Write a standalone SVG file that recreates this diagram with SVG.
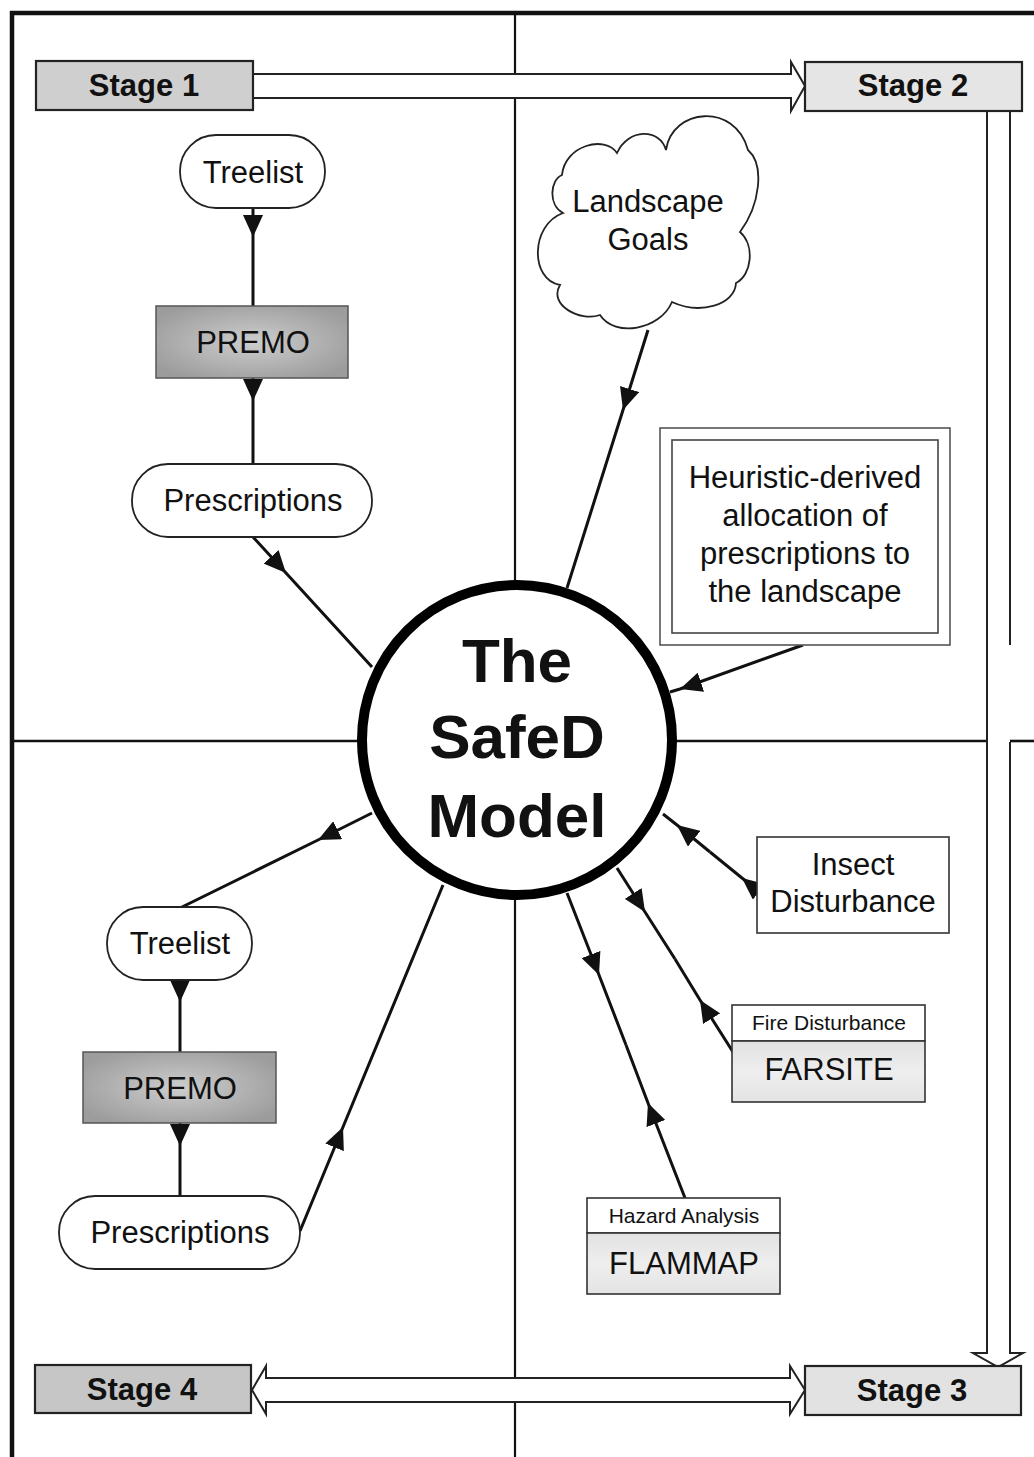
<svg xmlns="http://www.w3.org/2000/svg" width="1034" height="1457" viewBox="0 0 1034 1457">
  <style>
    text { font-family: "Liberation Sans", Arial, Helvetica, sans-serif; fill: #111; text-anchor: middle; }
    .lbl { font-size: 31px; }
    .stg { font-size: 31px; font-weight: bold; }
    .core { font-size: 62px; font-weight: bold; }
    .sm { font-size: 21px; }
    .frame { stroke: #111; fill: none; }
    .wire { stroke: #111; stroke-width: 3; fill: none; marker-mid: url(#ah); }
    .pill { fill: #fff; stroke: #222; stroke-width: 1.8; }
    .box { fill: #fff; stroke: #333; stroke-width: 1.6; }
    .stagebox { stroke: #222; stroke-width: 2.2; }
    .hollow { fill: #fff; stroke: none; }
    .hl { stroke: #222; stroke-width: 2; fill: none; }
  </style>
  <defs>
    <marker id="ah" viewBox="0 0 22 20" refX="22" refY="10" markerWidth="22" markerHeight="20" markerUnits="userSpaceOnUse" orient="auto">
      <path d="M0,0 L22,10 L0,20 Z" fill="#111"/>
    </marker>
    <radialGradient id="premoFill" cx="50%" cy="50%" r="60%">
      <stop offset="0" stop-color="#cdcdcd"/>
      <stop offset="1" stop-color="#9c9c9c"/>
    </radialGradient>
    <linearGradient id="toolFill" x1="0" y1="0" x2="0" y2="1">
      <stop offset="0" stop-color="#e2e2e2"/>
      <stop offset="0.5" stop-color="#eeeeee"/>
      <stop offset="1" stop-color="#e4e4e4"/>
    </linearGradient>
  </defs>

  <rect width="1034" height="1457" fill="#fff"/>

  <!-- outer frame and quadrant dividers -->
  <g id="frame">
    <line class="frame" x1="10" y1="13" x2="1034" y2="13" stroke-width="4.5"/>
    <line class="frame" x1="12" y1="11" x2="12" y2="1457" stroke-width="4.5"/>
    <line class="frame" x1="515" y1="13" x2="515" y2="1457" stroke-width="2.2"/>
    <line class="frame" x1="12" y1="741" x2="987" y2="741" stroke-width="2.6"/>
    <line class="frame" x1="1010" y1="741" x2="1034" y2="741" stroke-width="2.6"/>
  </g>

  <!-- hollow stage-to-stage arrows -->
  <g id="stage-arrows">
    <path class="hollow" d="M253,74 L791,74 L791,62 L805,86 L791,111 L791,98 L253,98 Z"/>
    <path class="hl" d="M253,74 L791,74 L791,62 L805,86 L791,111 L791,98 L253,98"/>

    <path class="hollow" d="M987,111 L1010,111 L1010,1353 L1023,1353 L998,1367 L973,1353 L987,1353 Z"/>
    <path class="hl" d="M987,111 L987,1353 L973,1353 L998,1367 L1023,1353 L1010,1353 L1010,742"/>
    <path class="hl" d="M1010,111 L1010,645"/>

    <path class="hollow" d="M252,1390 L266,1366 L266,1378 L790,1378 L790,1366 L805,1390 L790,1414 L790,1402 L266,1402 L266,1414 Z"/>
    <path class="hl" d="M252,1390 L266,1366 L266,1378 L790,1378 L790,1366 L805,1390 L790,1414 L790,1402 L266,1402 L266,1414 Z"/>
  </g>

  <!-- connectors -->
  <g id="connectors">
    <path class="wire" d="M253,208 L253,237 L253,306"/>
    <path class="wire" d="M253,378 L253,401 L253,464"/>
    <path class="wire" d="M253,537 L286,573 L372,667"/>
    <path class="wire" d="M648,330 L623,410 L567,588"/>
    <path class="wire" d="M803,645 L680,689 L670,692"/>
    <path class="wire" d="M757,890 L742,878 L710,852"/>
    <path class="wire" d="M710,852 L677,825 L663,814"/>
    <path class="wire" d="M617,868 L645,912 L675,959"/>
    <path class="wire" d="M733,1052 L700,1000 L675,959"/>
    <path class="wire" d="M567,893 L599,975 L626,1045"/>
    <path class="wire" d="M685,1198 L648,1103 L626,1045"/>
    <path class="wire" d="M372,813 L318,840 L180,908"/>
    <path class="wire" d="M180,980 L180,1002 L180,1052"/>
    <path class="wire" d="M180,1123 L180,1146 L180,1196"/>
    <path class="wire" d="M300,1231 L343,1127 L443,885"/>
  </g>

  <!-- stage boxes -->
  <g id="stage1">
    <rect class="stagebox" x="36" y="61" width="217" height="49" fill="#cfcfcf"/>
    <text class="stg" x="144" y="96">Stage 1</text>
  </g>
  <g id="stage2">
    <rect class="stagebox" x="805" y="62" width="217" height="49" fill="#e5e5e5"/>
    <text class="stg" x="913" y="96">Stage 2</text>
  </g>
  <g id="stage3">
    <rect class="stagebox" x="805" y="1366" width="216" height="49" fill="#e2e2e2"/>
    <text class="stg" x="912" y="1401">Stage 3</text>
  </g>
  <g id="stage4">
    <rect class="stagebox" x="35" y="1365" width="216" height="48" fill="#c6c6c6"/>
    <text class="stg" x="142" y="1400">Stage 4</text>
  </g>

  <!-- stage 1 chain -->
  <g id="treelist-1">
    <rect class="pill" x="180" y="135" width="145" height="73" rx="36"/>
    <text class="lbl" x="253" y="183">Treelist</text>
  </g>
  <g id="premo-1">
    <rect x="156" y="306" width="192" height="72" fill="url(#premoFill)" stroke="#555" stroke-width="1.5"/>
    <text class="lbl" x="253" y="353" fill="#222">PREMO</text>
  </g>
  <g id="prescriptions-1">
    <rect class="pill" x="132" y="464" width="240" height="73" rx="36"/>
    <text class="lbl" x="253" y="511">Prescriptions</text>
  </g>

  <!-- stage 2 -->
  <g id="landscape-goals">
    <path fill="#fff" stroke="#222" stroke-width="1.8" d="M562,175 C565,145 605,135 617,153 C628,128 660,128 666,150 C672,108 735,102 748,150 C765,165 760,205 740,232 C755,245 752,275 736,283 C735,305 700,315 672,302 C660,330 615,338 600,315 C580,322 548,305 560,285 C530,280 530,225 563,213 C548,205 550,180 562,175 Z"/>
    <text class="lbl" x="648" y="212">Landscape</text>
    <text class="lbl" x="648" y="250">Goals</text>
  </g>
  <g id="heuristic-allocation">
    <rect x="660" y="428" width="290" height="217" fill="#fff" stroke="#555" stroke-width="1.6"/>
    <rect x="672" y="440" width="266" height="193" fill="none" stroke="#444" stroke-width="1.6"/>
    <text class="lbl" x="805" y="488">Heuristic-derived</text>
    <text class="lbl" x="805" y="526">allocation of</text>
    <text class="lbl" x="805" y="564">prescriptions to</text>
    <text class="lbl" x="805" y="602">the landscape</text>
  </g>

  <!-- stage 3 -->
  <g id="insect-disturbance">
    <rect class="box" x="757" y="837" width="192" height="96"/>
    <text class="lbl" x="853" y="875">Insect</text>
    <text class="lbl" x="853" y="912">Disturbance</text>
  </g>
  <g id="farsite">
    <rect class="box" x="732" y="1005" width="193" height="36"/>
    <text class="sm" x="829" y="1030">Fire Disturbance</text>
    <rect x="732" y="1041" width="193" height="61" fill="url(#toolFill)" stroke="#333" stroke-width="1.6"/>
    <text class="lbl" x="829" y="1080">FARSITE</text>
  </g>
  <g id="flammap">
    <rect class="box" x="587" y="1198" width="193" height="35"/>
    <text class="sm" x="684" y="1223">Hazard Analysis</text>
    <rect x="587" y="1233" width="193" height="61" fill="url(#toolFill)" stroke="#333" stroke-width="1.6"/>
    <text class="lbl" x="684" y="1274">FLAMMAP</text>
  </g>

  <!-- stage 4 chain -->
  <g id="treelist-4">
    <rect class="pill" x="107" y="907" width="145" height="73" rx="36"/>
    <text class="lbl" x="180" y="954">Treelist</text>
  </g>
  <g id="premo-4">
    <rect x="83" y="1052" width="193" height="71" fill="url(#premoFill)" stroke="#555" stroke-width="1.5"/>
    <text class="lbl" x="180" y="1099" fill="#222">PREMO</text>
  </g>
  <g id="prescriptions-4">
    <rect class="pill" x="59" y="1196" width="241" height="73" rx="36"/>
    <text class="lbl" x="180" y="1243">Prescriptions</text>
  </g>

  <!-- central model -->
  <g id="safed-model">
    <circle cx="517" cy="740" r="155" fill="#fff" stroke="#000" stroke-width="10"/>
    <text class="core" x="517" y="682">The</text>
    <text class="core" x="517" y="758">SafeD</text>
    <text class="core" x="517" y="837">Model</text>
  </g>
</svg>
